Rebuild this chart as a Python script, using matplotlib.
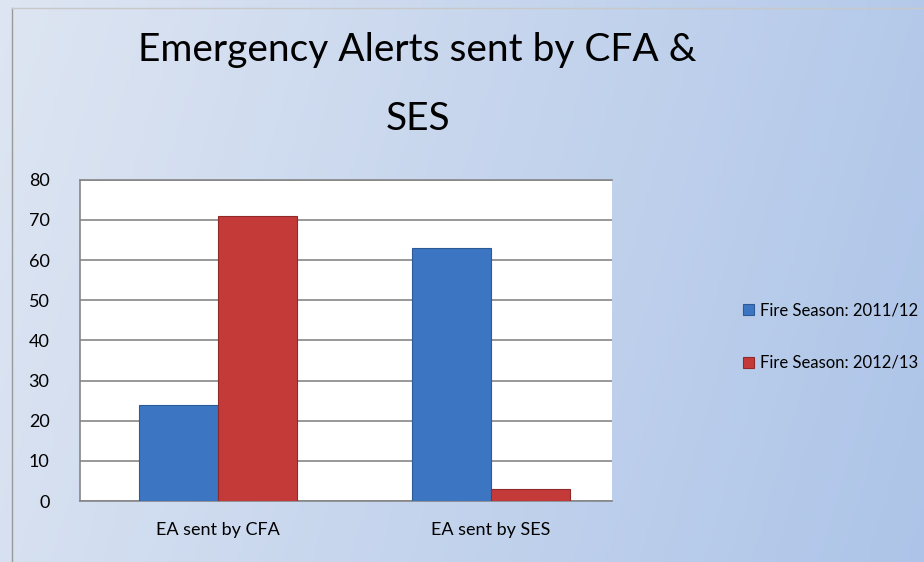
import numpy as np
import matplotlib.pyplot as plt

# datos
categorias = ['EA sent by CFA', 'EA sent by SES']
series = ['Fire Season: 2011/12', 'Fire Season: 2012/13']
valores_2011 = [24, 63]
valores_2012 = [71, 3]
colores = ['#3c76c2', '#c43a39']
bordes = ['#2c5a96', '#8f2a29']

plt.rcParams['font.family'] = ['Lato', 'DejaVu Sans']

fig = plt.figure(figsize=(9.24, 5.62), dpi=100)

# fondo degradado
fondo = fig.add_axes([0, 0, 1, 1], zorder=-10)
gx = np.linspace(0, 1, 256)
gy = np.linspace(0, 1, 64)
X, Y = np.meshgrid(gx, gy)
c0 = np.array([0.87, 0.90, 0.95])
c1 = np.array([0.68, 0.77, 0.91])
t = np.clip(X * 0.85 + Y * 0.15, 0, 1)[..., None]
fondo.imshow(c0 * (1 - t) + c1 * t, aspect='auto', extent=[0, 1, 0, 1])
fondo.plot([0.013, 0.013], [0, 0.985], color='#9a9a9a', lw=1)
fondo.plot([0.013, 1], [0.985, 0.985], color='#c8c8c8', lw=1)
fondo.set_xlim(0, 1)
fondo.set_ylim(0, 1)
fondo.axis('off')

ax = fig.add_axes([0.0866, 0.1085, 0.5755, 0.5715])
x = np.arange(len(categorias))
ancho = 0.29
b1 = ax.bar(x - ancho / 2, valores_2011, ancho, color=colores[0], edgecolor=bordes[0],
            lw=0.8, label=series[0], zorder=3)
b2 = ax.bar(x + ancho / 2, valores_2012, ancho, color=colores[1], edgecolor=bordes[1],
            lw=0.8, label=series[1], zorder=3)

ax.set_ylim(0, 80)
ax.set_xlim(-0.505, 1.443)
ax.set_yticks(range(0, 81, 10))
ax.set_xticks(x)
ax.set_xticklabels(categorias)
ax.yaxis.grid(True, color='#868686', lw=1.2)
ax.set_axisbelow(True)
ax.tick_params(axis='both', length=0, labelsize=13, colors='black')
ax.tick_params(axis='y', pad=22)
ax.tick_params(axis='x', pad=15)
ax.spines['right'].set_visible(False)
for lado in ['left', 'bottom', 'top']:
    ax.spines[lado].set_color('#868686')
    ax.spines[lado].set_linewidth(1.2)
ax.set_facecolor('white')

fig.text(0.452, 0.85, 'Emergency Alerts sent by CFA &\nSES', ha='center', va='center',
         fontsize=28, linespacing=2.15)

fig.legend(handles=[b1, b2], labels=series, loc='center left',
           bbox_to_anchor=(0.792, 0.401), frameon=False, fontsize=12,
           handlelength=0.65, handleheight=0.65, handletextpad=0.35, labelspacing=2.2,
           borderpad=0.2)

plt.savefig('out.png', dpi=100)
